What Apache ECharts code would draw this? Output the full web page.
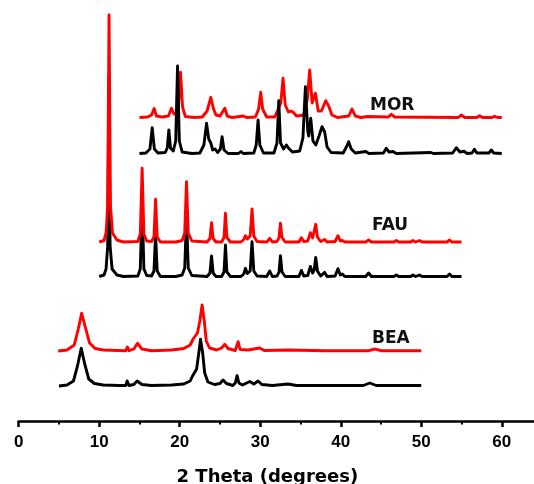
<!DOCTYPE html>
<html>
<head>
<meta charset="utf-8">
<script src="https://cdn.jsdelivr.net/npm/echarts@6/dist/echarts.min.js"></script>
<style>
  html, body { margin: 0; padding: 0; background: #fff; }
  #chart { width: 534px; height: 484px; }
</style>
</head>
<body>
<div id="chart"></div>
<script>
// x tick labels
const majorTicks = [0, 10, 20, 30, 40, 50, 60]
const minorTicks = [5, 15, 25, 35, 45, 55]

// [2theta, stacked intensity (a.u.)]
const beaBlack = [
  [5.0, 35], [6.0, 36], [6.8, 40], [7.3, 55], [7.77, 72.7], [8.2, 57], [8.7, 42], [9.4, 37.5], [10.5, 36],
  [12.5, 35.5], [13.3, 35.5], [13.47, 40], [13.7, 35.5], [14.3, 36.5], [14.71, 40], [15.3, 36.5], [16.5, 35.5],
  [19.0, 36], [20.5, 37], [21.3, 40], [21.59, 45], [22.1, 52], [22.4, 70], [22.58, 81.7], [22.85, 68], [23.1, 48],
  [23.5, 39], [24.3, 36.5], [25.0, 37.5], [25.38, 41], [25.8, 37.5], [26.6, 35.5], [26.9, 38], [27.12, 45.3],
  [27.35, 38], [27.8, 36], [28.7, 39.5], [29.2, 37], [29.73, 40], [30.2, 36.5], [31.5, 35.5], [33.45, 37],
  [34.5, 35.5], [38.0, 35.5], [42.8, 35.5], [43.6, 38], [44.4, 35.5], [50.0, 35.5]
]
const beaRed = [
  [4.9, 70], [6.0, 71], [6.9, 76], [7.4, 92], [7.82, 107.7], [8.3, 93], [8.8, 78], [9.5, 72.5], [10.5, 71],
  [13.3, 70.3], [13.5, 74], [13.7, 70.3], [14.3, 72], [14.76, 77.7], [15.3, 72], [16.5, 70.3], [19.0, 71],
  [20.5, 72.5], [21.3, 76], [21.66, 82], [22.2, 88], [22.5, 100], [22.78, 116], [23.05, 100], [23.3, 80],
  [23.7, 73], [24.6, 71], [25.2, 73], [25.6, 76.7], [26.0, 72.5], [26.9, 70.5], [27.25, 79.3], [27.5, 71.5],
  [28.5, 71], [29.94, 73], [30.5, 70.5], [33.5, 71], [38.0, 70.3], [43.5, 70.3], [44.2, 72], [45.0, 70.3],
  [50.0, 70.3]
]
const fauBlack = [
  [10.0, 144.5], [10.6, 146], [10.85, 152], [11.05, 175], [11.2, 344], [11.35, 175], [11.6, 152], [12.2, 146],
  [13.0, 144.5], [14.8, 145], [15.1, 152], [15.33, 218], [15.55, 152], [15.9, 145.5], [16.5, 145], [16.8, 150],
  [17.0, 187], [17.2, 150], [17.6, 144.5], [19.5, 144.5], [20.3, 146], [20.62, 153], [20.84, 204], [21.06, 153],
  [21.5, 145.5], [23.4, 144.5], [23.75, 148], [23.95, 165], [24.15, 148], [24.5, 144.5], [25.2, 144.5],
  [25.5, 149], [25.68, 176], [25.86, 149], [26.3, 144.5], [27.6, 144.5], [27.95, 147], [28.16, 152.7],
  [28.4, 147.5], [28.75, 150], [28.98, 179.3], [29.2, 150], [29.6, 145], [30.8, 144.5], [31.18, 150],
  [31.5, 144.5], [32.1, 145], [32.33, 149], [32.51, 165.3], [32.7, 149], [33.1, 144.5], [34.8, 144.5],
  [35.11, 150.6], [35.4, 145], [35.9, 145.5], [36.23, 154.6], [36.5, 148], [36.7, 151], [36.89, 163.6],
  [37.1, 150], [37.5, 145], [38.0, 148.6], [38.3, 144.5], [39.3, 145], [39.65, 152.3], [39.95, 146],
  [40.2, 147], [40.5, 144.5], [43.1, 144.5], [43.46, 148], [43.8, 144.5], [46.6, 144.5], [46.9, 146],
  [47.2, 144.5], [48.7, 144.5], [48.96, 146], [49.3, 144.5], [49.78, 146], [50.1, 144.5], [53.2, 144.5],
  [53.51, 147], [53.8, 144.5], [55.0, 144.5]
]
const fauRed = [
  [10.0, 179], [10.6, 180.5], [10.85, 188], [11.05, 215], [11.22, 406], [11.4, 215], [11.65, 188], [12.2, 181],
  [13.0, 179], [14.8, 179.5], [15.1, 187], [15.33, 252.7], [15.55, 187], [15.9, 180], [16.5, 179.5],
  [16.8, 184], [17.0, 221.7], [17.2, 184], [17.6, 179], [19.5, 179], [20.3, 180.5], [20.62, 188],
  [20.84, 239.3], [21.06, 188], [21.5, 180], [23.4, 179], [23.75, 182.5], [23.95, 198.3], [24.15, 182.5],
  [24.5, 179], [25.2, 179], [25.5, 183.5], [25.68, 207.7], [25.86, 183.5], [26.3, 179], [27.6, 179],
  [27.95, 181.5], [28.16, 185.3], [28.4, 182], [28.75, 185], [28.98, 212], [29.2, 185], [29.6, 179.5],
  [30.8, 179], [31.18, 182.7], [31.5, 179], [32.1, 179.5], [32.33, 183.5], [32.51, 197.7], [32.7, 183.5],
  [33.1, 179], [34.8, 179], [35.11, 183.3], [35.4, 179.5], [35.9, 180], [36.23, 188.3], [36.5, 183],
  [36.7, 185], [36.89, 196.7], [37.1, 184], [37.5, 179.5], [38.0, 181.5], [38.3, 179], [39.3, 179.5],
  [39.65, 185.3], [39.95, 180], [40.2, 180.5], [40.5, 179], [43.1, 179], [43.46, 181], [43.8, 179],
  [46.6, 179], [46.9, 180.5], [47.2, 179], [48.7, 179], [48.96, 180.5], [49.3, 179], [49.78, 180.5],
  [50.1, 179], [53.2, 179], [53.51, 181], [53.8, 179], [55.0, 179]
]
const morBlack = [
  [15.0, 267.5], [15.8, 268], [16.3, 272], [16.58, 293.3], [16.85, 272], [17.3, 268], [18.2, 268.5],
  [18.45, 273], [18.65, 291], [18.85, 273], [19.2, 270], [19.5, 280], [19.73, 355], [19.95, 280], [20.3, 269],
  [21.5, 267.5], [22.5, 268], [23.0, 276], [23.33, 297.7], [23.6, 282], [23.86, 278], [24.1, 271],
  [24.4, 272], [24.7, 268.5], [25.05, 272], [25.26, 284.3], [25.5, 271], [26.0, 267.5], [27.3, 267.5],
  [27.6, 269.5], [27.9, 267.5], [29.2, 268], [29.5, 276], [29.73, 301], [29.95, 276], [30.4, 268],
  [31.7, 268], [32.08, 278], [32.3, 320.3], [32.52, 278], [32.9, 272], [33.25, 276], [33.5, 273],
  [33.65, 274], [34.0, 269], [34.9, 270], [35.3, 283], [35.61, 334.3], [35.9, 290], [36.02, 285],
  [36.27, 302.7], [36.55, 280], [36.9, 276], [37.3, 285], [37.67, 294.3], [38.0, 289], [38.3, 274],
  [38.8, 268.5], [40.3, 268], [40.7, 274], [40.98, 279.3], [41.3, 272], [41.8, 268], [43.1, 269.5],
  [43.5, 267.5], [45.3, 268], [45.65, 272.7], [46.0, 269], [46.5, 269.5], [46.9, 267.5], [51.2, 268.5],
  [51.5, 267.5], [53.9, 268], [54.35, 273.3], [54.8, 269], [55.3, 269.7], [55.7, 267.5], [56.3, 268],
  [56.6, 271.7], [56.9, 268], [58.4, 268], [58.7, 271], [59.0, 268], [60.0, 267.5]
]
const morRed = [
  [15.0, 303.5], [16.0, 304], [16.5, 306], [16.82, 312.5], [17.1, 305], [17.8, 304], [18.6, 305],
  [18.98, 312.7], [19.3, 307], [19.6, 306], [19.85, 315], [20.1, 348.7], [20.35, 314], [20.7, 304.5],
  [21.8, 303.5], [22.8, 304], [23.4, 310], [23.86, 323.7], [24.2, 312], [24.5, 306], [25.0, 305],
  [25.6, 312.7], [25.9, 305], [26.5, 303.5], [27.9, 305], [28.3, 303.5], [29.4, 304], [29.8, 312],
  [30.06, 328.7], [30.3, 312], [30.8, 304], [31.8, 304], [32.55, 318], [32.83, 342.7], [33.1, 316],
  [33.5, 309], [33.8, 310], [34.1, 308.7], [34.5, 305], [35.4, 306], [35.85, 322], [36.14, 351],
  [36.45, 318], [36.6, 320], [36.85, 327.7], [37.2, 310], [37.6, 310], [38.13, 320.3], [38.5, 315],
  [38.9, 306], [39.6, 303.5], [41.0, 305], [41.39, 312], [41.8, 305], [42.5, 303.5], [43.3, 304.5],
  [45.9, 304], [46.28, 306.7], [46.7, 304], [54.6, 303.5], [54.96, 306], [55.4, 303.5], [56.9, 303.5],
  [57.24, 305.3], [57.6, 303.5], [58.8, 303.5], [59.1, 304.7], [59.5, 303.5], [60.0, 303.5]
]
const sampleNames = ['BEA', 'FAU', 'MOR']

const chart = echarts.init(document.getElementById('chart'))

function trace(name, data, color) {
  return {
    name: name,
    type: 'line',
    xAxisIndex: 0,
    data: data,
    showSymbol: false,
    smooth: false,
    silent: true,
    lineStyle: { color: color, width: 2.9, join: 'round' }
  }
}

const labelFont = { fontFamily: 'DejaVu Sans', fontWeight: 'bold', fontSize: 17, fill: '#111' }

chart.setOption({
  animation: false,
  backgroundColor: '#fff',
  grid: { left: 18.7, right: 0, top: 0, bottom: 63, outerBoundsMode: 'none' },
  xAxis: [{
    type: 'value',
    min: 0,
    max: 64,
    name: '2 Theta (degrees)',
    nameLocation: 'middle',
    nameGap: 47,
    nameTextStyle: {
      fontFamily: 'DejaVu Sans',
      fontWeight: 'bold',
      fontSize: 18,
      color: '#000',
      padding: [0, 18, 0, 0]
    },
    splitLine: { show: false },
    axisLine: { lineStyle: { color: '#000', width: 2.5 } },
    axisTick: { customValues: majorTicks, length: 6, lineStyle: { color: '#000', width: 2.5 } },
    axisLabel: {
      customValues: majorTicks,
      margin: 13,
      fontFamily: 'Liberation Sans',
      fontWeight: 'bold',
      fontSize: 17,
      color: '#000'
    }
  }, {
    type: 'value',
    min: 0,
    max: 64,
    position: 'bottom',
    splitLine: { show: false },
    axisLine: { show: false },
    axisTick: { customValues: minorTicks, length: 3.5, lineStyle: { color: '#000', width: 2 } },
    axisLabel: { show: false }
  }],
  yAxis: { type: 'value', min: 0, max: 421, show: false },
  series: [
    trace('BEA-1', beaBlack, '#000'),
    trace('BEA-2', beaRed, '#ff0000'),
    trace('FAU-1', fauBlack, '#000'),
    trace('FAU-2', fauRed, '#ff0000'),
    trace('MOR-2', morRed, '#ff0000'),
    trace('MOR-1', morBlack, '#000')
  ],
  graphic: [
    { type: 'text', left: 372, top: 330, style: Object.assign({ text: sampleNames[0] }, labelFont) },
    { type: 'text', left: 372, top: 217, style: Object.assign({ text: sampleNames[1] }, labelFont) },
    { type: 'text', left: 370, top: 97, style: Object.assign({ text: sampleNames[2] }, labelFont) }
  ]
})
</script>
</body>
</html>
